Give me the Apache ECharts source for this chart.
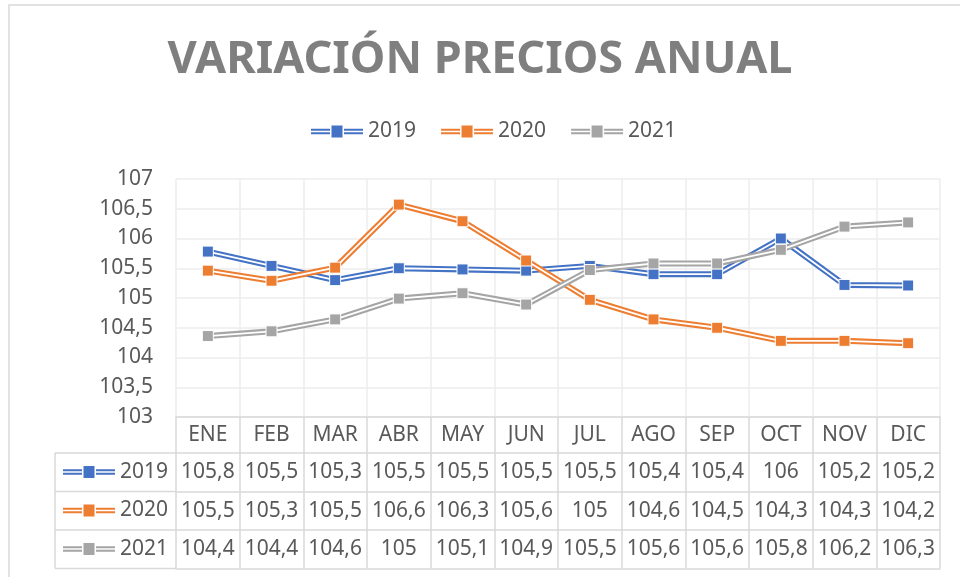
<!DOCTYPE html>
<html>
<head>
<meta charset="utf-8">
<script src="https://cdn.jsdelivr.net/npm/echarts@6/dist/echarts.min.js"></script>
<style>
  html, body { margin: 0; padding: 0; background: #fff; }
  #chart { width: 960px; height: 577px; }
</style>
</head>
<body>
<div id="chart"></div>
<script>
// datos
const meses = ['ENE', 'FEB', 'MAR', 'ABR', 'MAY', 'JUN', 'JUL', 'AGO', 'SEP', 'OCT', 'NOV', 'DIC']
const anios = ['2019', '2020', '2021']
const v2019 = [105.78, 105.54, 105.30, 105.50, 105.48, 105.46, 105.54, 105.40, 105.40, 106.00, 105.22, 105.21]
const v2020 = [105.46, 105.29, 105.51, 106.57, 106.29, 105.63, 104.97, 104.64, 104.50, 104.28, 104.28, 104.24]
const v2021 = [104.36, 104.44, 104.64, 104.99, 105.08, 104.89, 105.47, 105.58, 105.58, 105.81, 106.20, 106.27]
const colores = ['#4472c4', '#ed7d31', '#a5a5a5']
const yTicks = { min: 103, max: 107, interval: 0.5 }

const valores = [v2019, v2020, v2021]
const fuente = 'Noto Sans'
const gris = '#595959'
const linea = '#d9d9d9'

// formato con coma decimal, sin ",0"
const fmt = (v) => String(Math.round(v * 10) / 10).replace('.', ',')

// icono doble línea con cuadrado (estilo Excel)
const icono = 'path://M0,3.3H19V5.3H0Z M0,6.7H19V8.7H0Z M20.5,0H31.5V12H20.5Z M33,3.3H52V5.3H33Z M33,6.7H52V8.7H33Z'

const gridLeft = 176
const gridTop = 179
const gridBottom = 160
const fila = 38.5
const cabecera = 36

const chart = echarts.init(document.getElementById('chart'))

// cada año: línea gruesa de color + línea blanca encima (efecto doble) con marcadores
const series = []
anios.forEach((a, i) => {
    series.push({
        name: a,
        type: 'line',
        xAxisIndex: 0,
        data: valores[i],
        symbol: 'none',
        lineStyle: { color: colores[i], width: 6 },
        itemStyle: { color: colores[i] },
        silent: true
    })
    series.push({
        name: a + ' ',
        type: 'line',
        xAxisIndex: 0,
        data: valores[i],
        symbol: 'rect',
        symbolSize: 11,
        lineStyle: { color: '#ffffff', width: 1.8 },
        itemStyle: { color: colores[i], borderColor: '#ffffff', borderWidth: 1 },
        silent: true
    })
})

// ejes x: el primero es la cabecera de la tabla, los demás son las filas de datos
const xAxes = [{
    type: 'category',
    data: meses,
    position: 'bottom',
    boundaryGap: true,
    axisLine: { show: true, lineStyle: { color: linea, width: 1.5 } },
    axisTick: { show: true, interval: 0, length: cabecera + fila * 3, lineStyle: { color: linea, width: 1.5 } },
    axisLabel: { interval: 0, margin: 8, fontFamily: fuente, fontSize: 21, color: gris },
    splitLine: { show: true, interval: 0, lineStyle: { color: '#ececec', width: 1.5 } }
}]
valores.forEach((vals, i) => {
    xAxes.push({
        type: 'category',
        data: meses,
        position: 'bottom',
        offset: cabecera + fila * i,
        axisLine: { show: true, lineStyle: { color: linea, width: 1.5 } },
        axisTick: { show: false },
        axisLabel: {
            interval: 0, margin: 9, fontFamily: fuente, fontSize: 21, color: gris,
            formatter: (v, idx) => fmt(vals[idx])
        },
        splitLine: { show: false }
    })
})
xAxes.push({
    type: 'category',
    data: meses,
    position: 'bottom',
    offset: cabecera + fila * 3,
    axisLine: { show: true, lineStyle: { color: linea, width: 1.5 } },
    axisTick: { show: false },
    axisLabel: { show: false }
})

// bordes de la columna izquierda de la tabla
const yTabla = 577 - gridBottom + cabecera
const graficos = [{
    type: 'rect',
    shape: { x: 9, y: 5, width: 1200, height: 1200 },
    style: { fill: 'none', stroke: linea, lineWidth: 1.5 },
    silent: true
}, {
    type: 'line',
    shape: { x1: 55, y1: yTabla, x2: 55, y2: yTabla + fila * 3 },
    style: { stroke: linea, lineWidth: 1.5 }
}]
for (let i = 0; i <= 3; i++) {
    graficos.push({
        type: 'line',
        shape: { x1: 55, y1: yTabla + fila * i, x2: gridLeft, y2: yTabla + fila * i },
        style: { stroke: linea, lineWidth: 1.5 }
    })
}

const option = {
    animation: false,
    backgroundColor: '#ffffff',
    title: {
        text: 'VARIACIÓN PRECIOS ANUAL',
        left: 'center',
        top: 33,
        padding: [5, 5, 5, 17],
        textStyle: { fontFamily: fuente, fontSize: 45, fontWeight: 'bold', color: '#7f7f7f' }
    },
    legend: [{
        data: anios,
        top: 121,
        left: 311,
        padding: 0,
        itemWidth: 52,
        itemHeight: 12,
        itemGap: 25,
        icon: icono,
        textStyle: { fontFamily: fuente, fontSize: 21, color: gris }
    }, {
        data: anios,
        orient: 'vertical',
        top: 460,
        left: 63,
        padding: 0,
        itemWidth: 52,
        itemHeight: 12,
        itemGap: 14.5,
        icon: icono,
        selectedMode: false,
        textStyle: { fontFamily: fuente, fontSize: 21, color: gris, lineHeight: 24 }
    }],
    grid: {
        left: gridLeft,
        right: 20,
        top: gridTop,
        bottom: gridBottom
    },
    xAxis: xAxes,
    yAxis: {
        type: 'value',
        min: yTicks.min,
        max: yTicks.max,
        interval: yTicks.interval,
        axisLine: { show: false },
        axisTick: { show: false },
        axisLabel: {
            margin: 23, fontFamily: fuente, fontSize: 21, color: gris,
            formatter: (v) => fmt(v)
        },
        splitLine: { lineStyle: { color: '#ececec', width: 1.5 } }
    },
    graphic: graficos,
    series: series
}

chart.setOption(option)

window.addEventListener('resize', () => {
    chart.resize()
})
</script>
</body>
</html>
